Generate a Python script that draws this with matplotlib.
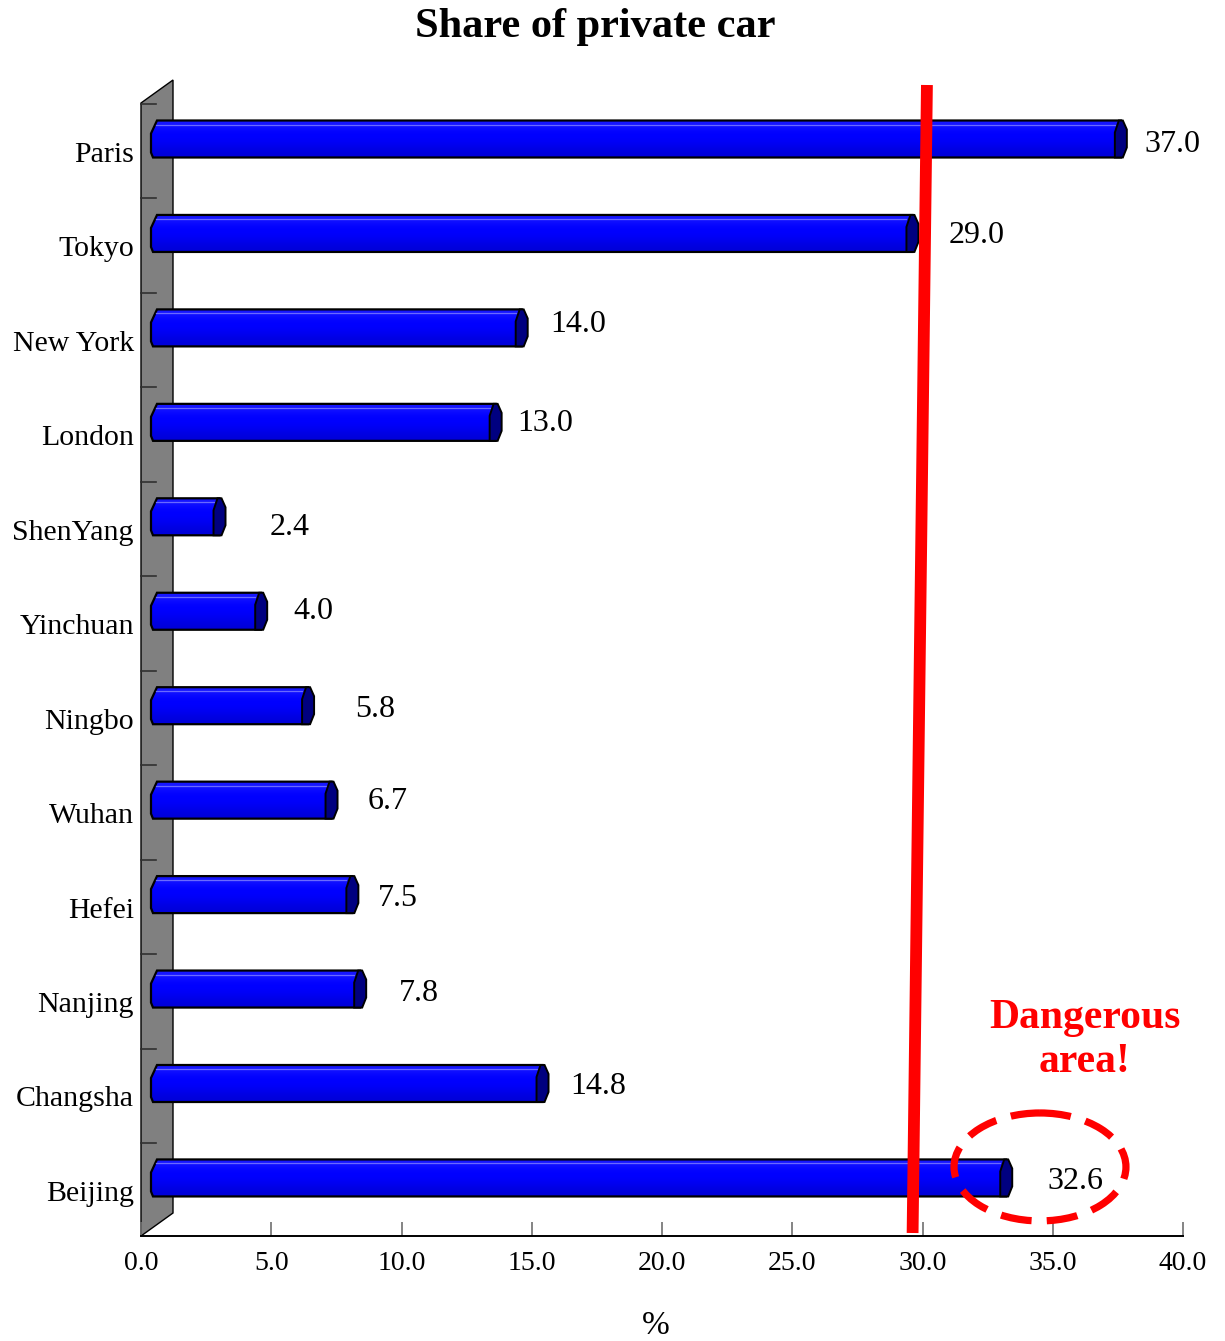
"""Share of private car: pseudo-3D horizontal bars with a gray back wall."""
import matplotlib
matplotlib.use("Agg")
import matplotlib.pyplot as plt
import numpy as np
from matplotlib.patches import Polygon, Ellipse

plt.rcParams["font.family"] = ["Liberation Serif", "DejaVu Serif"]

# ---- data -----------------------------------------------------------------
cities = ["Paris", "Tokyo", "New York", "London", "ShenYang", "Yinchuan",
          "Ningbo", "Wuhan", "Hefei", "Nanjing", "Changsha", "Beijing"]
share = [37.0, 29.0, 14.0, 13.0, 2.4, 4.0, 5.8, 6.7, 7.5, 7.8, 14.8, 32.6]
xticks = [0, 5, 10, 15, 20, 25, 30, 35, 40]
# hand-drawn "danger" line, slightly slanted in the original
danger_top, danger_bottom = 30.17, 29.62

# ---- layout (pixel offsets, not data) --------------------------------------
label_gap = [18, 30, 23, 16, 44, 26, 41, 30, 19, 33, 22, 35]
label_dy = [2, -1, -7, -2, 7, -3, 0, -2, 0, 1, -1, 0]

W, H = 1225, 1341
X0, X1 = 141, 1183          # pixel x of 0 and 40
Y_TOP, Y_AX = 80, 1236      # top of wall, x axis line
C0, STEP = 139, 94.45       # first bar centre, bar spacing
PX = 40 / (X1 - X0)         # data units per px (x)
PY = 1 / STEP               # data units per px (y)

fig = plt.figure(figsize=(W / 100, H / 100), dpi=100)
ax = fig.add_axes([X0 / W, (H - Y_AX) / H, (X1 - X0) / W, (Y_AX - Y_TOP) / H])

# back wall
wall = Polygon([(0, (103 - C0) * PY), (32 * PX, (80 - C0) * PY),
                (32 * PX, (1213 - C0) * PY), (0, (Y_AX - C0) * PY)],
               closed=True, fc="#808080", ec="black", lw=1.0, zorder=1,
               clip_on=False)
ax.add_patch(wall)
for k in range(len(cities)):
    yk = (104 - C0) * PY + k
    ax.plot([0, 15 * PX], [yk, yk], color="#303030", lw=1.2, zorder=2,
            clip_on=False)

grad = np.array([[0.10, 0.10, 1.0], [0.0, 0.0, 1.0], [0.0, 0.0, 1.0],
                 [0.0, 0.0, 0.93], [0.0, 0.0, 0.85]])[:, None, :]

half = 18.5 * PY
for i, (city, v) in enumerate(zip(cities, share)):
    top, bot = i - half, i + half
    x0 = 10 * PX
    xe = x0 + v
    body_pts = [(x0 + 6 * PX, top), (xe + 6 * PX, top), (xe + 6 * PX, bot),
                (x0 + 2 * PX, bot), (x0, bot - 5 * PY), (x0, top + 13 * PY)]
    body = Polygon(body_pts, closed=True, fc="none", ec="none", zorder=3)
    ax.add_patch(body)
    im = ax.imshow(grad, extent=(x0, xe + 6 * PX, bot, top), aspect="auto",
                   interpolation="bicubic", zorder=3)
    im.set_clip_path(body)
    ax.add_patch(Polygon(body_pts, closed=True, fc="none", ec="black",
                         lw=1.6, zorder=4))
    ax.plot([x0 + 5 * PX, xe], [top + 4 * PY] * 2, color="#6a6aff", lw=0.9,
            zorder=4)
    cap = Polygon([(xe + 4 * PX, top), (xe + 8 * PX, top),
                   (xe + 12 * PX, top + 9 * PY), (xe + 12 * PX, bot - 10 * PY),
                   (xe + 8 * PX, bot), (xe, bot), (xe, top + 12 * PY)],
                  closed=True, fc="#000080", ec="black", lw=1.4, zorder=5)
    ax.add_patch(cap)

    ax.text(xe + (12 + label_gap[i]) * PX, i + (label_dy[i] + 11) * PY,
            f"{v:.1f}", ha="left", va="baseline", fontsize=23, zorder=6)
    ax.text(-7 * PX, i + 23 * PY, city, ha="right", va="baseline",
            fontsize=21.5, zorder=6)

# danger line and highlight of Beijing
ax.plot([danger_top, danger_bottom], [(85 - C0) * PY, (1233 - C0) * PY],
        color="#ff0000", lw=8.5, solid_capstyle="butt", zorder=7,
        clip_on=False)
ax.add_patch(Ellipse((34.51, len(cities) - 1 - 11 * PY), 6.6, 1.143,
                     fill=False, ec="#ff0000", lw=5.2,
                     linestyle=(0, (4.3, 2.1)), zorder=8))
ax.text(36.24, (1040 - C0) * PY, "Dangerous\narea!", ha="center",
        va="center", color="#ff0000", fontsize=30, fontweight="bold",
        zorder=8)

ax.set_xlim(0, 40)
ax.set_ylim((Y_AX - C0) * PY, (Y_TOP - C0) * PY)
ax.set_xticks(xticks, labels=[f"{t:.1f}" for t in xticks])
ax.set_yticks([])
ax.tick_params(axis="x", direction="in", length=10, width=1.2,
               color="#707070", pad=11, labelsize=20)
for s in ("top", "right", "left"):
    ax.spines[s].set_visible(False)
ax.spines["bottom"].set_linewidth(1.4)
ax.set_facecolor("none")

fig.text(595 / W, 1 - 27 / H, "Share of private car", ha="center",
         va="center", fontsize=30.5, fontweight="bold")
fig.text(656 / W, 1 - 1326 / H, "%", ha="center", va="center", fontsize=24)

fig.savefig("out.png", dpi=100)
